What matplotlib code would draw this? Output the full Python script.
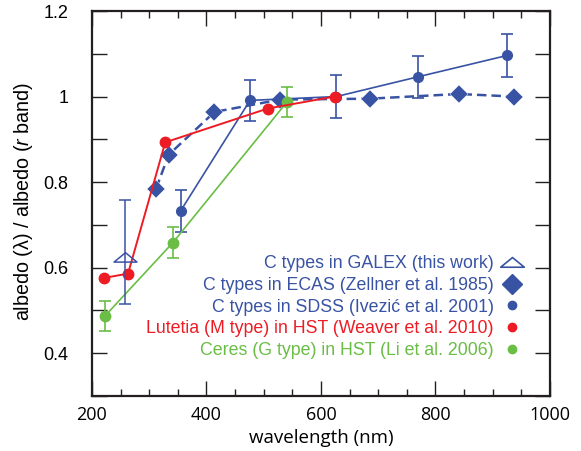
import numpy as np
import matplotlib
matplotlib.use("Agg")
import matplotlib.pyplot as plt
from matplotlib.lines import Line2D
from matplotlib.path import Path

# --- data ---
galex_x = [258]
galex_y = [0.625]
galex_err = [[0.111], [0.132]]

ecas_x = [312, 334, 414, 529, 685, 841, 937]
ecas_y = [0.785, 0.864, 0.964, 0.993, 0.995, 1.006, 1.000]

sdss_x = [355, 476, 627, 769, 925]
sdss_y = [0.733, 0.991, 1.000, 1.046, 1.096]
sdss_err = [0.049, 0.048, 0.050, 0.049, 0.050]

lutetia_x = [221, 263, 328, 507, 624]
lutetia_y = [0.576, 0.586, 0.893, 0.972, 1.000]

ceres_x = [222, 341, 541]
ceres_y = [0.486, 0.658, 0.988]
ceres_err = [0.035, 0.036, 0.035]

labels = [
    "C types in GALEX (this work)",
    "C types in ECAS (Zellner et al. 1985)",
    "C types in SDSS (Ivezić et al. 2001)",
    "Lutetia (M type) in HST (Weaver et al. 2010)",
    "Ceres (G type) in HST (Li et al. 2006)",
]

y_ticks = [0.3, 0.4, 0.5, 0.6, 0.7, 0.8, 0.9, 1.0, 1.1, 1.2]
y_ticklabels = ["", "0.4", "", "0.6", "", "0.8", "", "1", "", "1.2"]
x_ticks = [200, 400, 600, 800, 1000]

BLUE = "#3953a4"
RED = "#ed1c24"
GREEN = "#6abd45"

plt.rcParams["mathtext.fontset"] = "custom"
plt.rcParams["mathtext.it"] = "Liberation Sans:italic"
plt.rcParams["mathtext.rm"] = "Liberation Sans"

# flat open triangle used for the GALEX point
tri = Path([(-1, -0.4), (1, -0.4), (0, 0.42), (-1, -0.4)],
           [Path.MOVETO, Path.LINETO, Path.LINETO, Path.CLOSEPOLY])

fig = plt.figure(figsize=(5.81, 4.51), dpi=100)
ax = fig.add_axes([0.1583, 0.122, 0.7883, 0.8536])

ax.plot(ecas_x, ecas_y, color=BLUE, lw=1.8, ls=(0, (3.8, 2.0)),
        marker="D", ms=9.5, mec="white", mew=0.3, zorder=3)
ax.errorbar(sdss_x, sdss_y, yerr=sdss_err, color=BLUE, lw=1.2,
            marker="o", ms=7, capsize=4, capthick=1.2, elinewidth=1.2, zorder=4)
ax.errorbar(ceres_x, ceres_y, yerr=ceres_err, color=GREEN, lw=1.2,
            marker="o", ms=7.5, capsize=4, capthick=1.2, elinewidth=1.2, zorder=4)
ax.plot(lutetia_x, lutetia_y, color=RED, lw=1.4, marker="o", ms=7.5, zorder=5)
ax.errorbar(galex_x, galex_y, yerr=galex_err, color=BLUE, lw=1.1,
            marker=tri, ms=16.5, mfc="none", mec=BLUE, mew=1.1,
            capsize=4, capthick=1.1, elinewidth=1.1, zorder=6)

ax.set_xlim(200, 1000)
ax.set_ylim(0.3, 1.2)
ax.set_xticks(x_ticks)
ax.set_xticks(np.arange(250, 1000, 50), minor=True)
ax.set_yticks(y_ticks)
ax.set_yticklabels(y_ticklabels, family="Liberation Sans", fontsize=13)
ax.set_xticklabels([str(v) for v in x_ticks], family="Open Sans", fontsize=13)
ax.tick_params(which="both", direction="in", top=True, right=True, width=1.0, color="#231f20")
ax.tick_params(which="major", length=10.5)
ax.tick_params(which="minor", length=5)
ax.tick_params(axis="y", pad=17)
ax.tick_params(axis="x", pad=7)
for s in ax.spines.values():
    s.set_linewidth(1.6)
    s.set_color("#231f20")

ax.set_xlabel("wavelength (nm)", family="Open Sans", fontsize=13.5, labelpad=4)
ax.set_ylabel("albedo (λ) / albedo ($\\it{r}$ band)", family="Liberation Sans",
              fontsize=14.2)
ax.yaxis.set_label_coords(-0.125, 0.506)

handles = [
    Line2D([], [], ls="none", marker=tri, ms=17, mfc="none", mec=BLUE, mew=1.2),
    Line2D([], [], ls="none", marker="D", ms=10, color=BLUE),
    Line2D([], [], ls="none", marker="o", ms=6, color=BLUE),
    Line2D([], [], ls="none", marker="o", ms=6, color=RED),
    Line2D([], [], ls="none", marker="o", ms=6, color=GREEN),
]
ax.legend(handles, labels, loc="lower right", bbox_to_anchor=(0.955, 0.078),
          borderaxespad=0, frameon=False, markerfirst=False,
          handlelength=1.2, handletextpad=0.4, labelspacing=0.26,
          labelcolor=[BLUE, BLUE, BLUE, RED, GREEN],
          prop={"family": "Liberation Sans", "size": 12.8})

fig.savefig("out.png", dpi=100)
